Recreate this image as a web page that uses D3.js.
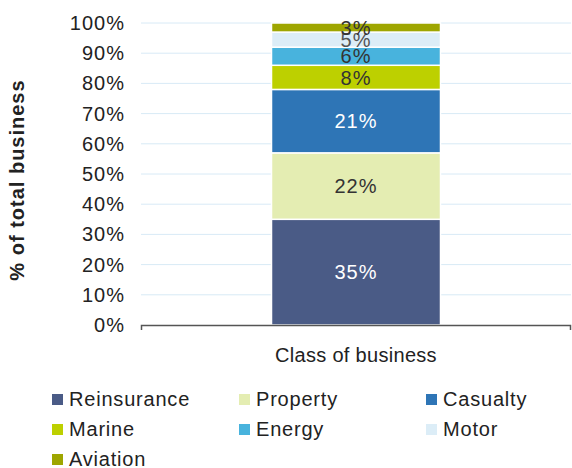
<!DOCTYPE html>
<html>
<head>
<meta charset="utf-8">
<script src="https://cdn.jsdelivr.net/npm/d3@7"></script>
<style>
  body { margin: 0; background: #fff; }
  text { font-family: "Liberation Sans", Arial, sans-serif; fill: #222; }
</style>
</head>
<body>
<svg id="chart" width="572" height="468"></svg>
<script>
// data
var categories = ['Class of business'];
var classes = ['Reinsurance', 'Property', 'Casualty', 'Marine', 'Energy', 'Motor', 'Aviation'];
var shares = [35, 22, 21, 8, 6, 5, 3];
var colours = ['#4a5b86', '#e4edb2', '#2e75b6', '#bdd000', '#48b3dd', '#dcedf7', '#9ea600'];
var labelColours = ['#fff', '#333', '#fff', '#333', '#333', '#555', '#333'];
var yTicks = [0, 10, 20, 30, 40, 50, 60, 70, 80, 90, 100];

var svg = d3.select('#chart'),
    margin = {top: 23, right: 1, bottom: 143, left: 141},
    width = +svg.attr('width') - margin.left - margin.right,
    height = +svg.attr('height') - margin.top - margin.bottom,
    g = svg.append('g').attr('transform', 'translate(' + margin.left + ',' + margin.top + ')');

var x = d3.scaleBand().domain(categories).range([0, width]).padding(0);
var y = d3.scaleLinear().domain([0, 100]).range([height, 0]);

// gridlines
g.selectAll('.grid')
  .data(yTicks.slice(1))
  .enter().append('line')
  .attr('x1', 0).attr('x2', width)
  .attr('y1', function(d) { return y(d); })
  .attr('y2', function(d) { return y(d); })
  .attr('stroke', '#d8eaf6').attr('stroke-width', 1);

// stack the segments
var rows = [];
var acc = 0;
for (let i = 0; i < classes.length; i++) {
  rows.push({name: classes[i], v: shares[i], y0: acc, y1: acc + shares[i], i: i});
  acc += shares[i];
}

var bar = g.selectAll('.seg')
  .data(rows)
  .enter().append('g')
  .attr('class', 'seg');

var bw = x.bandwidth() * 0.393;
var bx = x(categories[0]) + (x.bandwidth() - bw) / 2;

bar.append('rect')
  .attr('x', bx)
  .attr('width', bw)
  .attr('y', function(d) { return y(d.y1); })
  .attr('height', function(d) { return y(d.y0) - y(d.y1); })
  .attr('fill', function(d) { return colours[d.i]; })
  .attr('stroke', '#fff').attr('stroke-width', 1.5);

bar.append('text')
  .attr('x', bx + bw / 2)
  .attr('y', function(d) { return y((d.y0 + d.y1) / 2); })
  .attr('dy', '0.36em')
  .attr('text-anchor', 'middle')
  .style('font-size', '20px').style('letter-spacing', '1px')
  .style('fill', function(d) { return labelColours[d.i]; })
  .text(function(d) { return d.v + '%'; });

// y axis labels (no domain line)
var yAxis = g.append('g')
  .call(d3.axisLeft(y).tickValues(yTicks).tickSize(0).tickPadding(16).tickFormat(function(d) { return d + '%'; }));
yAxis.select('.domain').remove();
yAxis.selectAll('text').style('font-size', '20px').style('fill', '#222').style('letter-spacing', '1px')
  .style('font-family', '"Liberation Sans", Arial, sans-serif');

// x axis line with end ticks
var xAxis = g.append('g')
  .attr('transform', 'translate(0,' + height + ')');
xAxis.append('path')
  .attr('d', 'M0.5,5V0.5H' + (width - 0.5) + 'V5')
  .attr('fill', 'none').attr('stroke', '#555').attr('stroke-width', 1.5);
xAxis.append('text')
  .attr('x', x(categories[0]) + x.bandwidth() / 2)
  .attr('y', 30)
  .attr('dy', '0.36em')
  .attr('text-anchor', 'middle')
  .style('font-size', '20px').style('letter-spacing', '0.3px')
  .text(categories[0]);

// y axis title
svg.append('text')
  .attr('transform', 'translate(24,180) rotate(-90)')
  .attr('text-anchor', 'middle')
  .style('font-size', '20px').style('font-weight', 'bold').style('letter-spacing', '1px')
  .text('% of total business');

// legend
var legend = svg.append('g').attr('transform', 'translate(52,399)');
var item = legend.selectAll('.item')
  .data(classes)
  .enter().append('g')
  .attr('transform', function(d, i) { return 'translate(' + (i % 3) * 187 + ',' + Math.floor(i / 3) * 30 + ')'; });
item.append('rect')
  .attr('width', 11).attr('height', 11).attr('y', -5)
  .attr('fill', function(d, i) { return colours[i]; });
item.append('text')
  .attr('x', 17).attr('y', 0).attr('dy', '0.36em')
  .style('font-size', '20px').style('letter-spacing', '0.8px')
  .text(function(d) { return d; });
</script>
</body>
</html>
